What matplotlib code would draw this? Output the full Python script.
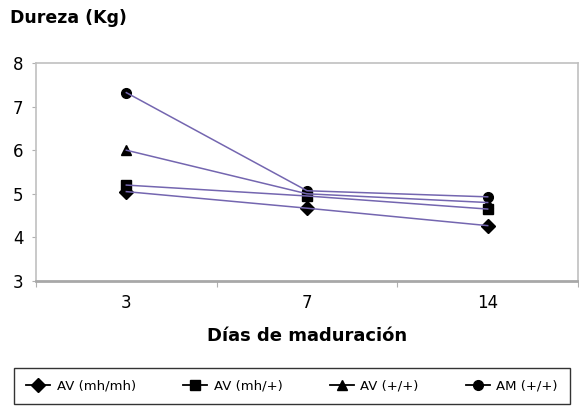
import matplotlib.pyplot as plt
from matplotlib.lines import Line2D

dias = ["3", "7", "14"]
av_mhmh = [5.05, 4.67, 4.27]
av_mhplus = [5.2, 4.95, 4.65]
av_plusplus = [6.0, 5.0, 4.8]
am_plusplus = [7.32, 5.07, 4.93]

series = [
    ("AV (mh/mh)", av_mhmh, "D"),
    ("AV (mh/+)", av_mhplus, "s"),
    ("AV (+/+)", av_plusplus, "^"),
    ("AM (+/+)", am_plusplus, "o"),
]

fig = plt.figure(figsize=(5.79, 4.09), dpi=100)
ax = fig.add_axes([36 / 579, 1 - 281 / 409, 542 / 579, 218 / 409])

x = range(len(dias))
handles = []
for name, vals, mk in series:
    ax.plot(x, vals, color="#7466b0", lw=1.1, zorder=3)
    ax.plot(x, vals, ls="none", marker=mk, color="black", ms=7, zorder=2)
    handles.append(Line2D([], [], color="black", lw=1.3, marker=mk, ms=7, label=name))

ax.set_xlim(-0.5, 2.5)
ax.set_ylim(3, 8)
ax.set_yticks([3, 4, 5, 6, 7, 8])
ax.set_xticks([-0.5, 0.5, 1.5, 2.5], minor=False)
ax.set_xticklabels([])
ax.set_xticks(list(x), minor=True)
ax.set_xticklabels(dias, minor=True)
ax.tick_params(axis="x", which="major", length=4, color="#b0b0b0")
ax.tick_params(axis="x", which="minor", length=0, labelsize=12, pad=9)
ax.tick_params(axis="y", length=3, color="#b0b0b0", labelsize=12, pad=6)
for s in ax.spines.values():
    s.set_color("#c0c0c0")
    s.set_linewidth(1.2)
ax.spines["bottom"].set_color("#a8a8a8")
ax.spines["bottom"].set_linewidth(2)

fig.text(10 / 579, 1 - 18 / 409, "Dureza (Kg)", fontsize=12.5, fontweight="bold", va="center")
fig.text(307 / 579, 1 - 336 / 409, "Días de maduración", fontsize=13, fontweight="bold", ha="center", va="center")

leg = fig.legend(handles=handles, loc="center", bbox_to_anchor=(292 / 579, 1 - 386 / 409),
                 ncol=4, fontsize=9.5, frameon=True, fancybox=False, edgecolor="black",
                 handlelength=1.8, handletextpad=0.5, columnspacing=3.6,
                 borderpad=0.9)
leg.get_frame().set_linewidth(1)

fig.savefig("out.png", dpi=100)
